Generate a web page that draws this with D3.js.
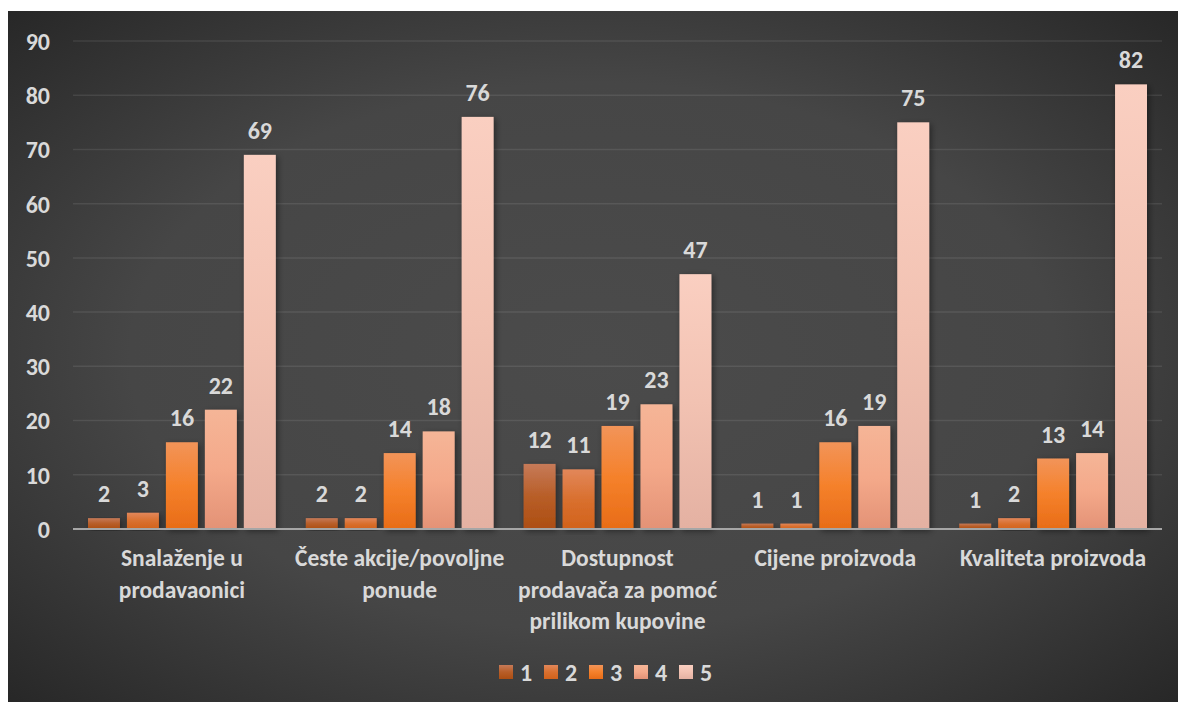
<!DOCTYPE html>
<html>
<head>
<meta charset="utf-8">
<script src="https://cdn.jsdelivr.net/npm/d3@7"></script>
<style>
  html, body { margin: 0; padding: 0; background: #ffffff; }
  svg { display: block; }
  text { font-family: Carlito, Calibri, Lato, "Open Sans", sans-serif; font-weight: 700; fill: #d9d9d9; }
</style>
</head>
<body>
<svg id="chart" width="1178" height="702"></svg>
<script>
// ---- data ----
const categories = [
  "Snalaženje u\nprodavaonici",
  "Česte akcije/povoljne\nponude",
  "Dostupnost\nprodavača za pomoć\nprilikom kupovine",
  "Cijene proizvoda",
  "Kvaliteta proizvoda"
];
const seriesNames = ["1", "2", "3", "4", "5"];
const series1 = [2, 2, 12, 1, 1];
const series2 = [3, 2, 11, 1, 2];
const series3 = [16, 14, 19, 16, 13];
const series4 = [22, 18, 23, 19, 14];
const series5 = [69, 76, 47, 75, 82];
const yTicks = [0, 10, 20, 30, 40, 50, 60, 70, 80, 90];

const seriesValues = [series1, series2, series3, series4, series5];
// gradient colours (top, middle, bottom) per series
const seriesColors = [
  ["#c67a58", "#b85e28", "#ad4e12"],
  ["#e2875a", "#d9702f", "#d2621b"],
  ["#f29459", "#f5812b", "#e86c17"],
  ["#f5b597", "#f4a98a", "#e39276"],
  ["#facfc1", "#f2c2b2", "#e4b1a2"]
];

const svg = d3.select("#chart");
const defs = svg.append("defs");

// background gradient
const bg = defs.append("radialGradient").attr("id", "bg")
  .attr("cx", "50%").attr("cy", "50%").attr("r", "72%");
bg.append("stop").attr("offset", "0%").attr("stop-color", "#4b4b4b");
bg.append("stop").attr("offset", "55%").attr("stop-color", "#464646");
bg.append("stop").attr("offset", "100%").attr("stop-color", "#262626");

seriesColors.forEach((c, i) => {
  const g = defs.append("linearGradient").attr("id", "g" + i)
    .attr("x1", 0).attr("y1", 0).attr("x2", 0).attr("y2", 1);
  g.append("stop").attr("offset", "0%").attr("stop-color", c[0]);
  g.append("stop").attr("offset", "50%").attr("stop-color", c[1]);
  g.append("stop").attr("offset", "100%").attr("stop-color", c[2]);
});

const shadow = defs.append("filter").attr("id", "shadow")
  .attr("x", "-30%").attr("y", "-10%").attr("width", "160%").attr("height", "120%");
shadow.append("feDropShadow").attr("dx", 2).attr("dy", 2).attr("stdDeviation", 3)
  .attr("flood-color", "#000").attr("flood-opacity", 0.45);

svg.append("rect").attr("x", 8).attr("y", 11).attr("width", 1170).attr("height", 691)
  .attr("fill", "url(#bg)");

// ---- layout ----
const plot = { left: 73, right: 1162, top: 41, bottom: 529 };
const FONT = "Carlito, Calibri, Lato, 'Open Sans', sans-serif";

const x0 = d3.scaleBand().domain(d3.range(categories.length))
  .range([plot.left, plot.right]).paddingInner(0).paddingOuter(0);
const groupPad = 15;
const x1 = d3.scaleBand().domain(d3.range(seriesNames.length))
  .range([groupPad, x0.bandwidth() - groupPad]).paddingInner(0.18).paddingOuter(0);
const y = d3.scaleLinear().domain([0, 90]).range([plot.bottom, plot.top]);

// gridlines
svg.append("g").selectAll("line").data(yTicks.filter(t => t > 0)).join("line")
  .attr("x1", plot.left).attr("x2", plot.right)
  .attr("y1", d => y(d)).attr("y2", d => y(d))
  .attr("stroke", "rgba(255,255,255,0.09)").attr("stroke-width", 1.5);

// y axis labels
const yAxis = d3.axisLeft(y).tickValues(yTicks).tickSize(0).tickPadding(0);
const gy = svg.append("g").attr("transform", `translate(50,0)`).call(yAxis);
gy.select(".domain").remove();
gy.selectAll("text").attr("font-size", 24).attr("fill", "#d9d9d9")
  .attr("font-family", FONT).attr("font-weight", 700)
  .attr("dy", "0.35em");

// bars
const groups = svg.append("g").selectAll("g").data(categories).join("g")
  .attr("transform", (d, i) => `translate(${x0(i)},0)`);

groups.each(function (cat, ci) {
  const g = d3.select(this);
  const vals = seriesValues.map((s, si) => ({ si, v: s[ci] }));
  g.selectAll("rect").data(vals).join("rect")
    .attr("x", d => x1(d.si)).attr("width", x1.bandwidth())
    .attr("y", d => y(d.v)).attr("height", d => y(0) - y(d.v))
    .attr("fill", d => `url(#g${d.si})`)
    .attr("filter", "url(#shadow)");
  g.selectAll("text.val").data(vals).join("text").attr("class", "val")
    .attr("x", d => x1(d.si) + x1.bandwidth() / 2)
    .attr("y", d => y(d.v) - 16)
    .attr("text-anchor", "middle").attr("font-size", 24)
    .text(d => d.v);
});

// x axis line
svg.append("line").attr("x1", plot.left).attr("x2", plot.right)
  .attr("y1", y(0)).attr("y2", y(0))
  .attr("stroke", "#a6a6a6").attr("stroke-width", 2);

// category labels
const catG = svg.append("g").selectAll("text").data(categories).join("text")
  .attr("x", (d, i) => x0(i) + x0.bandwidth() / 2)
  .attr("y", 566)
  .attr("text-anchor", "middle").attr("font-size", 23.5);
catG.each(function (d) {
  const t = d3.select(this);
  d.split("\n").forEach((line, li) => {
    t.append("tspan").attr("x", t.attr("x")).attr("dy", li === 0 ? 0 : 31.5).text(line);
  });
});

// legend
const legend = svg.append("g").selectAll("g").data(seriesNames).join("g")
  .attr("transform", (d, i) => `translate(${499 + i * 45},665)`);
legend.append("rect").attr("width", 14).attr("height", 14)
  .attr("fill", (d, i) => `url(#g${i})`);
legend.append("text").attr("x", 21).attr("y", 7).attr("dy", "0.36em")
  .attr("font-size", 24).text(d => d);
</script>
</body>
</html>
